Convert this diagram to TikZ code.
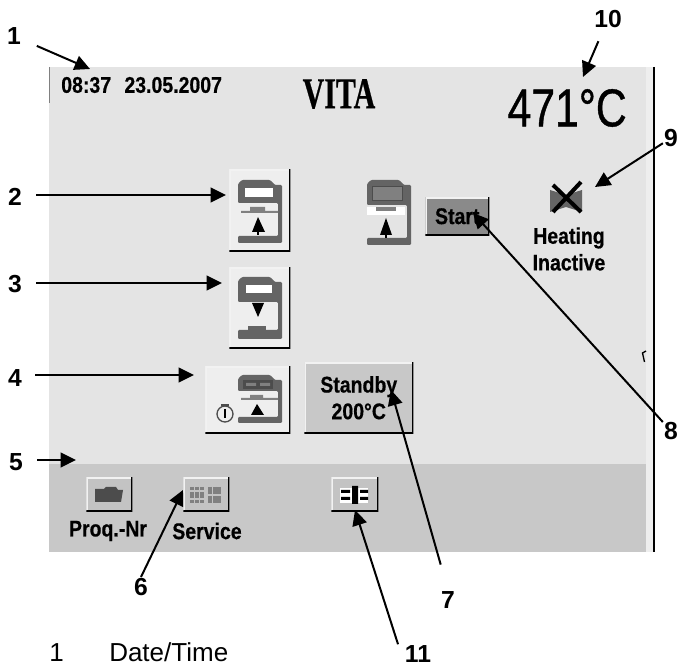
\documentclass[tikz,border=0pt]{standalone}
\usepackage{fontspec}
\setmainfont{Liberation Sans}
\newfontfamily\screenfont[FakeStretch=0.86,FakeBold=0.5]{Liberation Sans Bold}
\newfontfamily\logofont[FakeStretch=0.68,FakeBold=0.5]{Liberation Serif Bold}
\newfontfamily\tempfont[FakeStretch=0.8,FakeBold=0.7]{Liberation Sans}
\usetikzlibrary{arrows.meta}
\definecolor{screengrey}{RGB}{228,228,228}
\definecolor{bandgrey}{RGB}{200,200,200}
\definecolor{edgegrey}{RGB}{238,238,238}
\definecolor{startgrey}{RGB}{138,138,138}
\definecolor{furngrey}{RGB}{100,100,100}
\tikzset{
  callout/.style={line width=1.5pt,-{Triangle[length=11.5pt,width=11pt]}},
  num/.style={font=\bfseries\fontsize{18.5}{20}\selectfont,inner sep=0.75pt},
  screentext/.style={font=\screenfont\fontsize{17}{20}\selectfont,inner sep=0pt,align=center},
  btn/.style 2 args={anchor=north west,inner sep=0pt,screentext,
    minimum width=#1*0.75pt,minimum height=#2*0.75pt,
    path picture={
      \draw[white!90!gray,line width=2.4pt] (path picture bounding box.south west) -- (path picture bounding box.north west) -- (path picture bounding box.north east);
      \draw[black,line width=2.2pt] (path picture bounding box.south west) -- (path picture bounding box.south east) -- (path picture bounding box.north east);
    }},
}
% x left, y top, y hood bottom, y base top, y base bottom
\newcommand{\furnace}[5]{
  \fill[furngrey,rounded corners=0.8pt] (#1+4,#2) -- (#1+32,#2) -- (#1+37,#2+5) -- (#1+44,#2+5) -- (#1+44,#5) -- (#1,#5) -- (#1,#4) -- (#1+40,#4) -- (#1+40,#3) -- (#1,#3) -- (#1,#2+4) -- cycle;
}
\begin{document}
\begin{tikzpicture}[x=0.75pt,y=0.75pt,yscale=-1,xscale=1]
\useasboundingbox (0,0) rectangle (686,666);

%Screen panel
\fill[screengrey] (49,67) rectangle (646,464);
\fill[bandgrey] (49,464) rectangle (646,552);
\fill[edgegrey] (646,67) rectangle (654,552);
\draw[line width=1.5pt] (654,67) -- (654,552);
\draw[gray,line width=0.75pt] (49,67) -- (49,103);
\draw[line width=1pt] (646,351) -- (642.5,353) -- (644.5,362);

%Buttons
\node[btn={61}{82},fill=edgegrey] (raise) at (229,169) {};
\node[btn={61}{81},fill=edgegrey] (lower) at (229,267) {};
\node[btn={85}{67},fill=edgegrey] (timer) at (205,366) {};
\node[btn={109}{71},fill=bandgrey] (standby) at (304,362) {Standby\\[0pt]200°C};
\node[btn={64}{38},fill=startgrey] (start) at (425,197) {Start};
\node[btn={46}{34},fill=bandgrey!110] (prog) at (86,477) {};
\node[btn={46}{34},fill=bandgrey!110] (service) at (183,477) {};
\node[btn={47}{34},fill=bandgrey!110] (extra) at (331,477) {};

%Furnace raise
\furnace{238}{180}{203}{236}{243}
\fill[white] (245,188) rectangle (273,197);
\fill[gray] (241,211) rectangle (278,213) (250,207) rectangle (265,212);
\fill[black] (258,217) -- (265,232) -- (252,232) -- cycle;
\draw[line width=1pt] (258,230) -- (258,235);
%Furnace lower
\furnace{238}{277}{302}{330}{339}
\fill[white] (246,285) rectangle (272,293);
\fill[furngrey] (248,326) rectangle (266,331);
\fill[black] (252,303) -- (264,303) -- (258,317) -- cycle;
%Furnace timer
\furnace{238}{375}{391}{417}{423}
\fill[black!70] (243,380) rectangle (273,389);
\fill[gray] (246,383) rectangle (256,386) (260,383) rectangle (270,386);
\fill[gray] (241,398) rectangle (278,400) (250,395) rectangle (263,399);
\fill[black] (257,404) -- (264,415) -- (251,415) -- cycle;
\draw[line width=1pt,black!70] (225,414) circle (8);
\draw[line width=1pt,black!70] (221,405) -- (229,405);
\draw[line width=1.2pt] (225,409) -- (225,418);
%Furnace start
\furnace{367}{180}{205}{238}{245}
\fill[gray] (372,187) rectangle (402,201);
\draw[black!70,line width=0.75pt] (372,187) rectangle (402,201);
\fill[white] (367,207) rectangle (405,215);
\fill[gray] (376,207) rectangle (396,211);
\fill[black] (386,218) -- (392,235) -- (380,235) -- cycle;
\draw[line width=1pt] (386,233) -- (386,238);

%Folder
\fill[black!70] (95,489) -- (104,489) -- (106,487) -- (116,487) -- (118,490) -- (123,490) -- (121,502) -- (95,502) -- cycle;
%Service icon
\foreach \x in {192,197,202,210,215,219}
  \draw[gray,line width=2.6pt] (\x,487) -- (\x,503);
\draw[bandgrey!110,line width=1pt] (190,491) -- (204,491) (190,499) -- (204,499) (208,495) -- (221,495);
%Connector icon
\fill[white] (340,488) rectangle (368,503);
\fill[black] (341,490) rectangle (350,493) (341,497) rectangle (350,500) (360,490) rectangle (368,493) (360,497) rectangle (368,500) (352,486) rectangle (358,504);
%Heater
\fill[furngrey] (550,190) -- (566,195) -- (582,190) -- (582,212) -- (566,207) -- (550,212) -- cycle;
\draw[line width=3pt] (553,185) -- (581,212) (581,182) -- (553,212);

% Text Node
\node[screentext,anchor=west] (clock) at (61,85) {08:37\hspace{10pt}23.05.2007};
% Text Node
\node[inner sep=0pt,font=\logofont\fontsize{33}{36}\selectfont] (logo) at (339,94) {VITA};
% Text Node
\node[inner sep=0pt,anchor=east,font=\tempfont\fontsize{40}{44}\selectfont] (temp) at (627,108) {471°C};
% Text Node
\node[screentext] (heating) at (569,249) {Heating\\[0pt]Inactive};
% Text Node
\node[screentext] (progtext) at (108,531) {Proq.-Nr};
% Text Node
\node[screentext] (servicetext) at (207,531) {Service};

% Text Node
\node[num] (n1) at (14,36) {1};
\node[num] (n2) at (15,197) {2};
\node[num] (n3) at (15,284) {3};
\node[num] (n4) at (15,378) {4};
\node[num] (n5) at (16,462) {5};
\node[num] (n6) at (141,587) {6};
\node[num] (n7) at (448,600) {7};
\node[num] (n8) at (671,431) {8};
\node[num] (n9) at (671,138) {9};
\node[num] (n10) at (608,19) {10};
\node[num,inner xsep=5pt] (n11) at (418,654) {11};
% Text Node
\node[anchor=base west,inner sep=0pt,font=\fontsize{19.5}{22}\selectfont] (item) at (49,661) {1};
\node[anchor=base west,inner sep=0pt,font=\fontsize{19.5}{22}\selectfont] (itemtext) at (109,661) {Date/Time};

%Arrow ends
\coordinate (tip1) at (90,69);
\coordinate (tip2) at (226,195);
\coordinate (tip3) at (222,283);
\coordinate (tip4) at (194,375);
\coordinate (tip5) at (76,460);
\coordinate (tip6) at (183,490);
\coordinate (tip7) at (391,390);
\coordinate (tip8) at (473,213);
\coordinate (tip9) at (595,187);
\coordinate (tip10) at (583,77);
\coordinate (tip11) at (355,510);

%Straight Lines
\draw[callout,shorten <=12pt] (n1) -- (tip1);
\draw[callout,shorten <=10pt] (n2.east |- tip2) -- (tip2);
\draw[callout,shorten <=10pt] (n3.east |- tip3) -- (tip3);
\draw[callout,shorten <=9pt] (n4.east |- tip4) -- (tip4);
\draw[callout,shorten <=10pt] (n5.east |- tip5) -- (tip5);
\draw[callout] (n6.north) -- (tip6);
\draw[callout,shorten <=20pt] (n7.north) -- (tip7);
\draw[callout] (n8) -- (tip8);
\draw[callout] (n9) -- (tip9);
\draw[callout,shorten <=10pt] (n10) -- (tip10);
\draw[callout] (n11.north west) -- (tip11);

\end{tikzpicture}
\end{document}
